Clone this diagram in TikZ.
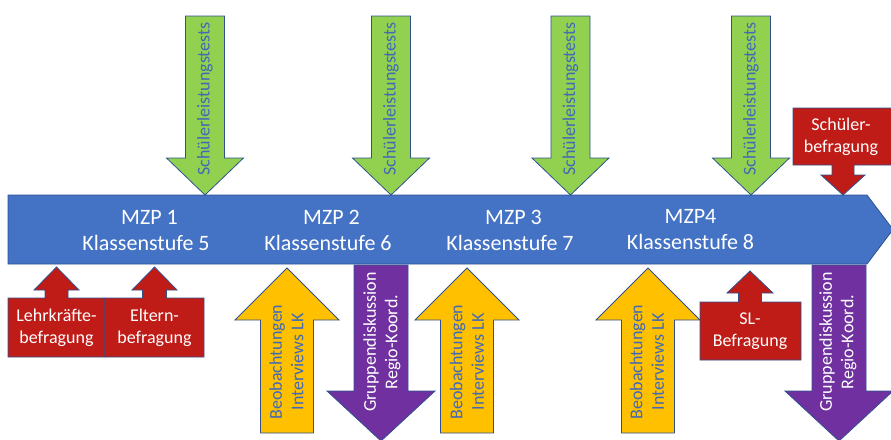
\documentclass[tikz,border=0pt]{standalone}
\usepackage{fontspec}
\setmainfont{Carlito}
\definecolor{bandblue}{HTML}{4472C4}
\definecolor{bordblue}{HTML}{2F528F}
\definecolor{txtblue}{HTML}{4169B8}
\definecolor{grn}{HTML}{92D050}
\definecolor{ylw}{HTML}{FFC000}
\definecolor{prp}{HTML}{7030A0}
\definecolor{rd}{HTML}{BF1B17}
\newcommand\bigtxt{\fontsize{22}{26}\selectfont}
\newcommand\smalltxt{\fontsize{18}{21.5}\selectfont}
\newcommand\myDownArrow[7]{%
  \draw[#1] (#2-#3,#5) -- (#2+#3,#5) -- (#2+#3,#6) -- (#2+#4,#6) -- (#2,#7) -- (#2-#4,#6) -- (#2-#3,#6) -- cycle;}
\newcommand\myUpArrow[7]{%
  \draw[#1] (#2-#3,#5) -- (#2-#3,#6) -- (#2-#4,#6) -- (#2,#7) -- (#2+#4,#6) -- (#2+#3,#6) -- (#2+#3,#5) -- cycle;}
\begin{document}
\begin{tikzpicture}[x=1pt,y=-1pt,
  outl/.style={draw=bordblue,line width=0.8pt,line join=miter},
  bandshape/.style={outl,fill=bandblue},
  greenarr/.style={outl,fill=grn},
  yellowarr/.style={outl,fill=ylw},
  purplearr/.style={outl,fill=prp},
  redbox/.style={outl,fill=rd},
  mzp/.style={text=white,font=\bigtxt,align=center,inner sep=0pt},
  vtxtblue/.style={text=txtblue,font=\smalltxt,align=center,rotate=90,inner sep=0pt},
  vtxtwhite/.style={text=white,font=\smalltxt,align=center,rotate=90,inner sep=0pt},
  redtxt/.style={text=white,font=\smalltxt,align=center,inner sep=0pt}]
\useasboundingbox (0,0) rectangle (891,439);
\clip (0,0) rectangle (891,439);
% timeline band
\draw[bandshape] (8,195) -- (867,195) -- (893,229.5) -- (867,264) -- (8,264) -- cycle;
% green arrows
\myDownArrow{greenarr}{205}{19.5}{38.5}{16}{158}{195}
\myDownArrow{greenarr}{391}{19.5}{38.5}{16}{158}{195}
\myDownArrow{greenarr}{570.5}{19.5}{38.5}{16}{158}{195}
\myDownArrow{greenarr}{751}{19.5}{38.5}{16}{158}{195}
% yellow arrows
\myUpArrow{yellowarr}{287}{26.5}{52}{433}{320}{268}
\myUpArrow{yellowarr}{467}{26.5}{52}{433}{320}{268}
\myUpArrow{yellowarr}{648}{26.5}{52}{433}{320}{268}
% purple arrows
\myDownArrow{purplearr}{381}{27}{54}{265}{391}{441}
\myDownArrow{purplearr}{839}{27}{54}{265}{391}{441}
% red callouts
\draw[redbox] (8,357) -- (8,298) -- (45,298) -- (45,290) -- (34,290) -- (56.5,267) -- (79,290) -- (68,290) -- (68,298) -- (105,298) -- (105,357) -- cycle;
\draw[redbox] (105,357) -- (105,298) -- (142.5,298) -- (142.5,290) -- (132,290) -- (154.5,267) -- (177,290) -- (166.5,290) -- (166.5,298) -- (204,298) -- (204,357) -- cycle;
\draw[redbox] (700,360) -- (700,302) -- (738.5,302) -- (738.5,293) -- (727,293) -- (750,271) -- (773,293) -- (761.5,293) -- (761.5,302) -- (801,302) -- (801,360) -- cycle;
\draw[redbox] (793,108) -- (893,108) -- (893,165) -- (854,165) -- (854,175) -- (865,175) -- (843,195) -- (821,175) -- (832,175) -- (832,165) -- (793,165) -- cycle;
% band labels
\node[mzp] (m1) at (146,230) {\hspace*{7pt}MZP 1\\Klassenstufe 5};
\node[mzp] (m2) at (328,230) {\hspace*{7pt}MZP 2\\Klassenstufe 6};
\node[mzp] (m3) at (510,230) {\hspace*{7pt}MZP 3\\Klassenstufe 7};
\node[mzp] (m4) at (690.5,230) {MZP4\\Klassenstufe 8};
% green labels
\node[vtxtblue] (g1) at (205,99) {Schülerleistungstests};
\node[vtxtblue] (g2) at (391,99) {Schülerleistungstests};
\node[vtxtblue] (g3) at (570.5,99) {Schülerleistungstests};
\node[vtxtblue] (g4) at (751,99) {Schülerleistungstests};
% yellow labels
\node[vtxtblue] (y1) at (286.5,362) {Beobachtungen\\Interviews LK};
\node[vtxtblue] (y2) at (467,362) {Beobachtungen\\Interviews LK};
\node[vtxtblue] (y3) at (647,362) {Beobachtungen\\Interviews LK};
% purple labels
\node[vtxtwhite] (p1) at (382,342) {Gruppendiskussion\\Regio-Koord.};
\node[vtxtwhite] (p2) at (838,342) {Gruppendiskussion\\Regio-Koord.};
% red labels
\node[redtxt] (r1) at (56.5,328) {Lehrkräfte-\\befragung};
\node[redtxt] (r2) at (154.5,328) {Eltern-\\befragung};
\node[redtxt] (r3) at (750,331) {SL-\\Befragung};
\node[redtxt] (r4) at (841,137) {Schüler-\\befragung};
\end{tikzpicture}
\end{document}
